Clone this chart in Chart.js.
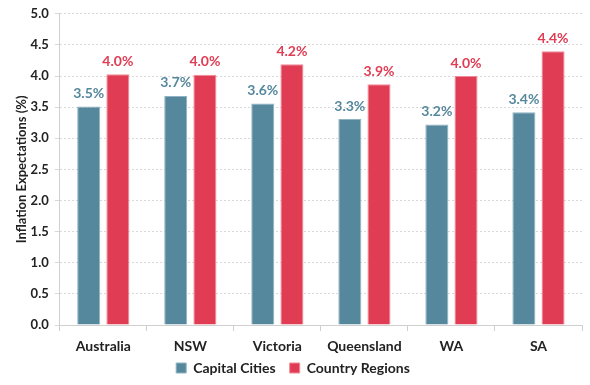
<!DOCTYPE html>
<html>
<head>
<meta charset="utf-8">
<script src="https://cdn.jsdelivr.net/npm/chart.js@4/dist/chart.umd.min.js"></script>
<style>
  body { margin: 0; background: #fff; }
  #wrap { width: 590px; height: 385px; }
</style>
</head>
<body>
<div id="wrap"><canvas id="barChart"></canvas></div>
<script>
var regions = ['Australia', 'NSW', 'Victoria', 'Queensland', 'WA', 'SA'];
var capitalCities = [3.51, 3.68, 3.56, 3.31, 3.22, 3.42];
var countryRegions = [4.03, 4.02, 4.19, 3.87, 4.00, 4.40];
var yTicks = [0, 0.5, 1, 1.5, 2, 2.5, 3, 3.5, 4, 4.5, 5];

var fontName = 'Lato, "Open Sans", sans-serif';

// etichette sopra le barre
var valueLabels = {
    id: 'valueLabels',
    afterDatasetsDraw: function(chart) {
        var ctx = chart.ctx;
        ctx.save();
        ctx.font = 'bold 14px ' + fontName;
        ctx.textAlign = 'center';
        ctx.textBaseline = 'bottom';
        chart.data.datasets.forEach(function(ds, i) {
            var meta = chart.getDatasetMeta(i);
            ctx.fillStyle = ds.labelColor;
            meta.data.forEach(function(bar, j) {
                ctx.fillText((Math.round(ds.data[j] * 10) / 10).toFixed(1) + '%', bar.x, bar.y - 6);
            });
        });
        ctx.restore();
    }
};

var ctxBar = document.getElementById('barChart').getContext('2d');
var barChart = new Chart(ctxBar, {
    type: 'bar',
    data: {
        labels: regions,
        datasets: [
            {
                label: 'Capital Cities',
                data: capitalCities,
                backgroundColor: '#56889D',
                borderColor: '#8fb3c2',
                borderWidth: 1,
                labelColor: '#56889D',
                categoryPercentage: 0.67,
                barPercentage: 0.79
            },
            {
                label: 'Country Regions',
                data: countryRegions,
                backgroundColor: '#E03C53',
                borderColor: '#f08a98',
                borderWidth: 1,
                labelColor: '#E03C53',
                categoryPercentage: 0.67,
                barPercentage: 0.79
            }
        ]
    },
    options: {
        responsive: true,
        maintainAspectRatio: false,
        animation: false,
        layout: { padding: { top: 9, right: 8, left: 4, bottom: 0 } },
        plugins: {
            tooltip: { enabled: false },
            legend: {
                position: 'bottom',
                // titolo vuoto con padding negativo: avvicina la legenda all'asse
                title: {
                    display: true,
                    text: '',
                    font: { size: 10 },
                    padding: { top: 0, bottom: -26 }
                },
                labels: {
                    boxWidth: 10,
                    boxHeight: 10,
                    padding: 14,
                    color: '#222',
                    font: { family: fontName, size: 14, weight: 'bold' }
                }
            }
        },
        scales: {
            x: {
                grid: {
                    offset: true,
                    drawOnChartArea: false,
                    tickLength: 6,
                    color: '#cfcfcf'
                },
                border: { color: '#cfcfcf' },
                ticks: {
                    color: '#222',
                    padding: 8,
                    font: { family: fontName, size: 14, weight: 'bold', lineHeight: 1 }
                }
            },
            y: {
                min: 0,
                max: 5,
                afterBuildTicks: function(axis) {
                    axis.ticks = yTicks.map(function(v) { return { value: v }; });
                },
                grid: {
                    color: '#d9d9d9',
                    tickLength: 5,
                    drawTicks: true
                },
                border: { color: '#cfcfcf', dash: [2, 2] },
                ticks: {
                    color: '#222',
                    padding: 6,
                    font: { family: fontName, size: 13, weight: 'bold' },
                    callback: function(v) { return Number(v).toFixed(1); }
                },
                title: {
                    display: true,
                    text: 'Inflation Expectations (%)',
                    color: '#222',
                    padding: { top: 10, bottom: -5 },
                    font: { family: fontName, size: 13, weight: 'bold' }
                }
            }
        }
    },
    plugins: [valueLabels]
});
</script>
</body>
</html>
